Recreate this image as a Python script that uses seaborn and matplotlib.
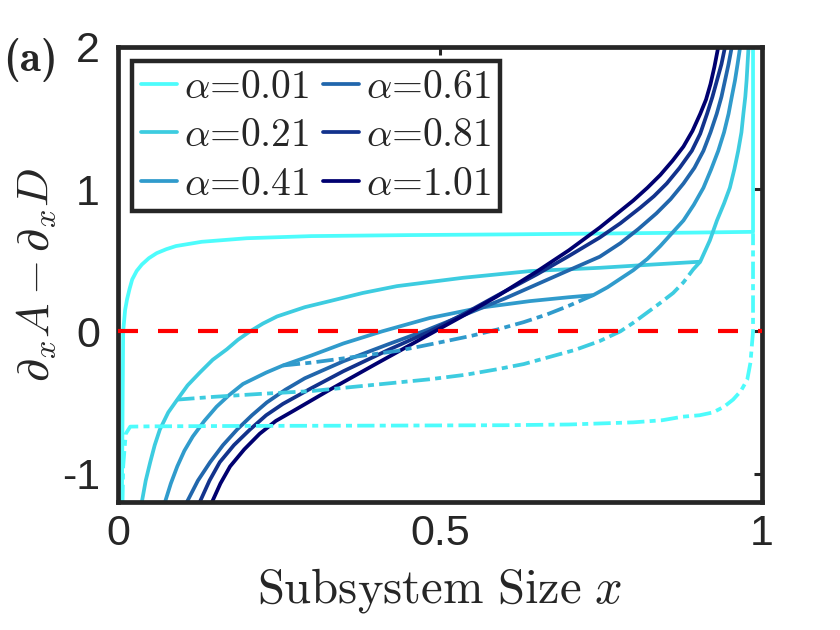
import matplotlib
matplotlib.use("Agg")
import matplotlib.pyplot as plt
import seaborn as sns

# values
alphas = ["0.01", "0.21", "0.41", "0.61", "0.81", "1.01"]
colors = ["#4dfcfc", "#3dcce0", "#309bcc", "#2166ac", "#12328c", "#000070"]

# solid branches
x_001 = [0.006, 0.007, 0.008, 0.011, 0.014, 0.018, 0.022, 0.029, 0.037, 0.048, 0.06, 0.075, 0.09, 0.13, 0.2, 0.3,
         0.45, 0.6, 0.75, 0.9, 0.986, 0.986, 0.986]
y_001 = [-1.2, -0.6, 0.0, 0.15, 0.225, 0.30, 0.365, 0.425, 0.47, 0.515, 0.55, 0.578, 0.60, 0.63, 0.655, 0.67,
         0.677, 0.682, 0.688, 0.695, 0.70, 1.4, 2.0]

x_021 = [0.037, 0.043, 0.05, 0.057, 0.065, 0.078, 0.092, 0.108, 0.127, 0.147, 0.169, 0.186, 0.205, 0.225, 0.247,
         0.29, 0.329, 0.38, 0.433, 0.536, 0.64, 0.748, 0.83, 0.904,
         0.919, 0.93, 0.941, 0.95, 0.957, 0.963, 0.968, 0.971, 0.974, 0.976, 0.979]
y_021 = [-1.2, -1.05, -0.92, -0.80, -0.69, -0.57, -0.48, -0.38, -0.29, -0.20, -0.126, -0.06, 0.0, 0.055, 0.105,
         0.17, 0.213, 0.27, 0.318, 0.377, 0.424, 0.447, 0.47, 0.49,
         0.64, 0.78, 0.90, 1.01, 1.14, 1.27, 1.40, 1.53, 1.65, 1.765, 2.0]

x_041 = [0.073, 0.082, 0.092, 0.103, 0.116, 0.134, 0.153, 0.172, 0.194, 0.23, 0.256, 0.30, 0.35, 0.41, 0.484,
         0.562, 0.64, 0.70, 0.738, 0.76, 0.80, 0.822, 0.842, 0.86, 0.878, 0.894, 0.909, 0.921, 0.932, 0.941,
         0.948, 0.953, 0.958, 0.962, 0.966]
y_041 = [-1.2, -1.07, -0.95, -0.84, -0.74, -0.63, -0.53, -0.45, -0.37, -0.29, -0.24, -0.17, -0.085, 0.0, 0.094,
         0.166, 0.213, 0.24, 0.255, 0.31, 0.43, 0.51, 0.60, 0.69, 0.78, 0.89, 1.01, 1.14, 1.27, 1.40,
         1.53, 1.65, 1.765, 1.88, 2.0]

x_061 = [0.107, 0.124, 0.143, 0.163, 0.185, 0.208, 0.231, 0.26, 0.29, 0.35, 0.42, 0.48, 0.54, 0.60, 0.66, 0.70,
         0.748, 0.78, 0.808, 0.836, 0.858, 0.878, 0.895, 0.909, 0.92, 0.9296, 0.937, 0.9425, 0.948, 0.953]
y_061 = [-1.2, -1.05, -0.92, -0.80, -0.69, -0.59, -0.50, -0.41, -0.33, -0.21, -0.09, 0.01, 0.12, 0.23, 0.35, 0.43,
         0.525, 0.62, 0.72, 0.83, 0.93, 1.04, 1.15, 1.27, 1.40, 1.53, 1.65, 1.765, 1.88, 2.0]

x_081 = [0.127, 0.142, 0.158, 0.18, 0.205, 0.23, 0.256, 0.30, 0.35, 0.42, 0.484, 0.54, 0.588, 0.65, 0.70, 0.748,
         0.78, 0.811, 0.832, 0.852, 0.872, 0.891, 0.904, 0.9146, 0.923, 0.93, 0.937, 0.9425]
y_081 = [-1.2, -1.05, -0.92, -0.80, -0.69, -0.59, -0.51, -0.40, -0.28, -0.13, 0.0, 0.13, 0.25, 0.40, 0.53, 0.66,
         0.76, 0.87, 0.95, 1.04, 1.15, 1.27, 1.39, 1.53, 1.65, 1.765, 1.88, 2.0]

x_101 = [0.146, 0.159, 0.174, 0.196, 0.22, 0.245, 0.272, 0.329, 0.40, 0.484, 0.54, 0.588, 0.65, 0.70, 0.748, 0.80,
         0.822, 0.842, 0.861, 0.878, 0.892, 0.904, 0.913, 0.92, 0.926, 0.932]
y_101 = [-1.2, -1.07, -0.95, -0.83, -0.72, -0.63, -0.56, -0.41, -0.23, -0.02, 0.12, 0.245, 0.42, 0.57, 0.73, 0.92,
         1.01, 1.10, 1.20, 1.30, 1.41, 1.53, 1.63, 1.74, 1.86, 2.0]

# dash-dot (metastable) branches
xd_001 = [0.007, 0.008, 0.012, 0.019, 0.05, 0.2, 0.4, 0.6, 0.7, 0.8, 0.845, 0.877, 0.903, 0.924, 0.941, 0.955,
          0.967, 0.977, 0.982, 0.986, 0.986]
yd_001 = [-1.2, -0.95, -0.72, -0.67, -0.668, -0.665, -0.663, -0.66, -0.655, -0.64, -0.625, -0.60, -0.59, -0.57,
          -0.53, -0.48, -0.42, -0.34, -0.22, 0.0, 0.69]

xd_021 = [0.092, 0.15, 0.22, 0.30, 0.355, 0.433, 0.484, 0.54, 0.588, 0.63, 0.666, 0.71, 0.748, 0.78, 0.80, 0.821,
          0.842, 0.862, 0.878, 0.893, 0.904]
yd_021 = [-0.48, -0.46, -0.44, -0.42, -0.395, -0.36, -0.337, -0.305, -0.267, -0.23, -0.185, -0.13, -0.068, 0.0,
          0.06, 0.13, 0.20, 0.27, 0.345, 0.435, 0.49]

xd_041 = [0.256, 0.30, 0.35, 0.39, 0.433, 0.47, 0.51, 0.55, 0.588, 0.63, 0.666, 0.70, 0.738]
yd_041 = [-0.24, -0.22, -0.19, -0.165, -0.138, -0.105, -0.068, -0.03, 0.012, 0.065, 0.119, 0.18, 0.255]

zero_x = [0, 1]
zero_y = [0, 0]

solid = [(x_001, y_001), (x_021, y_021), (x_041, y_041), (x_061, y_061), (x_081, y_081), (x_101, y_101)]
dashed = [(xd_001, yd_001), (xd_021, yd_021), (xd_041, yd_041)]

sns.set_theme(style="white")
plt.rcParams["mathtext.fontset"] = "cm"
plt.rcParams["axes.unicode_minus"] = False
plt.rcParams["font.family"] = ["Liberation Sans", "DejaVu Sans"]

fig = plt.figure(figsize=(8.4, 6.3), dpi=100)
ax = fig.add_axes([0.1405, 0.2032, 0.7667, 0.7222])

dk = "#262626"
lw = 2.7

sns.lineplot(x=zero_x, y=zero_y, ax=ax, color="red", lw=3, linestyle=(0, (4.8, 4.8)), zorder=3)

handles = []
for (xs, ys), c, a in zip(solid, colors, alphas):
    sns.lineplot(x=xs, y=ys, ax=ax, color=c, lw=lw, sort=False, estimator=None, zorder=2)
    handles.append(ax.lines[-1])
for (xs, ys), c in zip(dashed, colors):
    sns.lineplot(x=xs, y=ys, ax=ax, color=c, lw=lw, sort=False, estimator=None,
                 linestyle=(0, (4.6, 1.4, 1.6, 1.4)), zorder=2)

ax.set_xlim(0, 1)
ax.set_ylim(-1.2, 2)
ax.set_xticks([0, 0.5, 1])
ax.set_xticklabels(["0", "0.5", "1"])
ax.set_yticks([-1, 0, 1, 2])
ax.set_yticklabels(["-1", "0", "1", "2"])
ax.tick_params(direction="in", length=6, width=2.2, top=True, right=True, labelsize=31,
               colors=dk, labelcolor=dk)
ax.tick_params(axis="x", pad=9)
ax.tick_params(axis="y", pad=13)
for s in ax.spines.values():
    s.set_visible(True)
    s.set_linewidth(3.4)
    s.set_color(dk)

ax.set_xlabel(r"$\mathrm{Subsystem\ Size}\ x$", fontsize=35, color=dk, labelpad=8)
ax.set_ylabel(r"$\partial_x A - \partial_x D$", fontsize=33, color=dk, labelpad=2)

leg = ax.legend(handles, [r"$\alpha$=" + a for a in alphas], ncol=2, loc="upper left",
                bbox_to_anchor=(0.022, 0.969), borderaxespad=0, frameon=True, fancybox=False,
                edgecolor=dk, framealpha=1, prop={"family": "cmr10", "size": 28.5},
                handlelength=0.9, handletextpad=0.18, columnspacing=0.36, labelspacing=0.32,
                borderpad=0.22)
leg.get_frame().set_linewidth(3.2)

fig.text(0.004, 0.94, "(a)", fontsize=31, va="top", ha="left", family="cmb10")

fig.savefig("out.png", dpi=100)
